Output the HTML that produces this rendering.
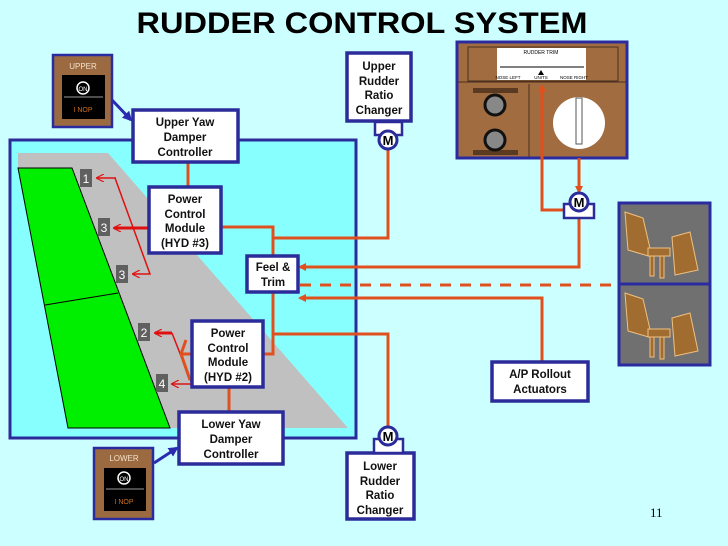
<!DOCTYPE html>
<html><head><meta charset="utf-8"><style>
html,body{margin:0;padding:0;background:#ccffff;}
svg{display:block;font-family:"Liberation Sans",Arial,sans-serif;}
.bx{fill:#fff;stroke:#2b2b9a;stroke-width:3.5;}
.t{font-weight:bold;font-size:11.5px;fill:#111;text-anchor:middle;}
.o{stroke:#e0501e;stroke-width:3;fill:none;}
.r{stroke:#e01010;stroke-width:1.5;fill:none;}
.n{fill:#fff;font-size:12px;text-anchor:middle;}
</style></head><body>
<svg width="728" height="546" viewBox="0 0 728 546">
<defs>
<marker id="ah" markerWidth="8" markerHeight="8" refX="6" refY="4" orient="auto" markerUnits="userSpaceOnUse"><path d="M0,0 L8,4 L0,8 z" fill="#e0501e"/></marker>
<marker id="rh" markerWidth="8" markerHeight="8" refX="7" refY="4" orient="auto" markerUnits="userSpaceOnUse"><path d="M0,0 L8,4 L0,8" fill="none" stroke="#e01010" stroke-width="1.2"/></marker>
<marker id="bh" markerWidth="10" markerHeight="10" refX="8" refY="5" orient="auto" markerUnits="userSpaceOnUse"><path d="M0,0 L10,5 L0,10 z" fill="#2b2bb0"/></marker>
</defs>
<rect width="728" height="546" fill="#ccffff"/>
<text x="362" y="33" font-size="30" font-weight="bold" text-anchor="middle" textLength="451" lengthAdjust="spacingAndGlyphs" fill="#000">RUDDER CONTROL SYSTEM</text>

<rect x="10" y="140" width="346" height="298" fill="#88ffff" stroke="#2b2b9a" stroke-width="3"/>
<polygon points="18,153 108,153 348,428 68,428 18,168" fill="#c0c0c0"/>
<polygon points="18,168 72,168 170,428 68,428" fill="#00ee00" stroke="#000" stroke-width="1"/>
<line x1="45" y1="305" x2="118" y2="293" stroke="#000" stroke-width="1"/>

<rect x="80" y="169" width="12" height="18" fill="#606060"/><text x="86" y="183" class="n">1</text>
<rect x="98" y="218" width="12" height="18" fill="#606060"/><text x="104" y="232" class="n">3</text>
<rect x="116" y="265" width="12" height="18" fill="#606060"/><text x="122" y="279" class="n">3</text>
<rect x="138" y="323" width="12" height="18" fill="#606060"/><text x="144" y="337" class="n">2</text>
<rect x="156" y="374" width="12" height="18" fill="#606060"/><text x="162" y="388" class="n">4</text>

<polyline class="r" points="116,178 97,178" marker-end="url(#rh)"/>
<polyline class="r" points="115,178 150,274 133,274" marker-end="url(#rh)"/>
<line x1="149" y1="228" x2="114" y2="228" stroke="#e01010" stroke-width="3" marker-end="url(#rh)"/>
<polyline class="r" points="172,333 192,384 172,384" marker-end="url(#rh)"/>
<line x1="172" y1="333" x2="155" y2="333" stroke="#e01010" stroke-width="3" marker-end="url(#rh)"/>
<line x1="192" y1="354" x2="180" y2="354" class="o"/>
<line x1="181" y1="354" x2="190" y2="380" class="o"/>
<line x1="181" y1="354" x2="186" y2="340" class="o"/>

<line class="o" x1="188" y1="162" x2="188" y2="187"/>
<polyline class="o" points="221,227 273,227 273,256"/>
<polyline class="o" points="273,238 388,238 388,148"/>
<polyline class="o" points="263,354 273,354 273,292"/>
<polyline class="o" points="273,334 388,334 388,428"/>
<line class="o" x1="229" y1="387" x2="229" y2="412"/>
<polyline class="o" points="579,218 579,267 300,267" marker-end="url(#ah)"/>
<line x1="300" y1="285" x2="619" y2="285" stroke="#e0501e" stroke-width="3" stroke-dasharray="11,9"/>
<polyline class="o" points="542,362 542,298 300,298" marker-end="url(#ah)"/>

<rect class="bx" x="133" y="110" width="105" height="52"/>
<text class="t" x="185" y="126">Upper Yaw</text><text class="t" x="185" y="141">Damper</text><text class="t" x="185" y="156">Controller</text>
<rect class="bx" x="149" y="187" width="72" height="66"/>
<text class="t" x="185" y="203">Power</text><text class="t" x="185" y="218">Control</text><text class="t" x="185" y="232">Module</text><text class="t" x="185" y="247">(HYD #3)</text>
<rect class="bx" x="247" y="256" width="51" height="36"/>
<text class="t" x="273" y="271">Feel &amp;</text><text class="t" x="273" y="286">Trim</text>
<rect class="bx" x="192" y="321" width="71" height="66"/>
<text class="t" x="228" y="337">Power</text><text class="t" x="228" y="352">Control</text><text class="t" x="228" y="366">Module</text><text class="t" x="228" y="381">(HYD #2)</text>
<rect class="bx" x="179" y="412" width="104" height="52"/>
<text class="t" x="231" y="428">Lower Yaw</text><text class="t" x="231" y="443">Damper</text><text class="t" x="231" y="458">Controller</text>
<rect class="bx" x="347" y="53" width="64" height="68"/>
<text class="t" x="379" y="70">Upper</text><text class="t" x="379" y="85">Rudder</text><text class="t" x="379" y="99">Ratio</text><text class="t" x="379" y="114">Changer</text>
<rect class="bx" x="347" y="453" width="67" height="66"/>
<text class="t" x="380" y="470">Lower</text><text class="t" x="380" y="485">Rudder</text><text class="t" x="380" y="499">Ratio</text><text class="t" x="380" y="514">Changer</text>
<rect class="bx" x="492" y="362" width="96" height="39"/>
<text class="t" x="540" y="378">A/P Rollout</text><text class="t" x="540" y="393">Actuators</text>

<rect x="457" y="42" width="170" height="116" fill="#a06c40" stroke="#2b2ba0" stroke-width="3"/>
<rect x="468" y="47" width="150" height="34" fill="none" stroke="#4a3020" stroke-width="1"/>
<rect x="497" y="48" width="89" height="32" fill="#fff"/>
<text x="541" y="54" font-size="5" text-anchor="middle">RUDDER TRIM</text>
<line x1="500" y1="67" x2="584" y2="67" stroke="#000" stroke-width="1"/>
<text x="541" y="79" font-size="4.5" text-anchor="middle">UNITS</text>
<text x="508" y="79" font-size="4.5" text-anchor="middle">NOSE LEFT</text>
<text x="574" y="79" font-size="4.5" text-anchor="middle">NOSE RIGHT</text>
<polygon points="541,70 538,75 544,75" fill="#000"/>
<line x1="458" y1="82" x2="626" y2="82" stroke="#4a3020"/>
<line x1="529" y1="84" x2="529" y2="157" stroke="#4a3020"/>
<rect x="473" y="88" width="45" height="5" fill="#5a3a20"/>
<rect x="473" y="150" width="45" height="5" fill="#5a3a20"/>
<circle cx="495" cy="105" r="10" fill="#888" stroke="#111" stroke-width="3"/>
<circle cx="495" cy="140" r="10" fill="#888" stroke="#111" stroke-width="3"/>
<circle cx="579" cy="123" r="26" fill="#fff"/>
<rect x="576" y="98" width="6" height="46" fill="#fff" stroke="#555" stroke-width="1"/>

<polyline class="o" points="570,210 542,210 542,86" marker-end="url(#ah)"/>
<line class="o" x1="579" y1="158" x2="579" y2="192" marker-end="url(#ah)"/>

<rect x="375" y="122" width="27" height="13" fill="#fff" stroke="#2b2b9a" stroke-width="2.5"/>
<circle cx="388" cy="140" r="9" fill="#fff" stroke="#2b2b9a" stroke-width="3"/>
<text x="388" y="145" font-size="13" font-weight="bold" text-anchor="middle">M</text>
<rect x="374" y="439" width="29" height="14" fill="#fff" stroke="#2b2b9a" stroke-width="2.5"/>
<circle cx="388" cy="436" r="9" fill="#fff" stroke="#2b2b9a" stroke-width="3"/>
<text x="388" y="441" font-size="13" font-weight="bold" text-anchor="middle">M</text>
<rect x="564" y="204" width="30" height="14" fill="#fff" stroke="#2b2b9a" stroke-width="2.5"/>
<circle cx="579" cy="202" r="9" fill="#fff" stroke="#2b2b9a" stroke-width="3"/>
<text x="579" y="207" font-size="13" font-weight="bold" text-anchor="middle">M</text>

<g stroke="#2b2ba0" stroke-width="3" fill="#707070">
<rect x="619" y="203" width="91" height="81"/><rect x="619" y="284" width="91" height="81"/>
</g>
<g fill="#a06c30" stroke="#f0c080" stroke-width="1">
<polygon points="625,212 643,218 652,257 628,250"/><polygon points="672,237 690,232 698,270 675,275"/>
<rect x="648" y="248" width="22" height="8"/><rect x="650" y="256" width="4" height="20"/><rect x="660" y="256" width="4" height="22"/>
<polygon points="625,293 643,299 652,338 628,331"/><polygon points="672,318 690,313 698,351 675,356"/>
<rect x="648" y="329" width="22" height="8"/><rect x="650" y="337" width="4" height="20"/><rect x="660" y="337" width="4" height="22"/>
</g>

<rect x="53" y="55" width="59" height="72" fill="#9c6a40" stroke="#2b2ba0" stroke-width="2.5"/>
<text x="83" y="69" font-size="8" fill="#f4e0c8" text-anchor="middle">UPPER</text>
<rect x="62" y="75" width="43" height="44" fill="#000"/>
<circle cx="83" cy="88" r="6" fill="none" stroke="#fff" stroke-width="1.5"/><text x="83" y="91" font-size="6" fill="#fff" text-anchor="middle">ON</text>
<line x1="64" y1="97" x2="103" y2="97" stroke="#999"/>
<text x="83" y="112" font-size="7" fill="#d07020" text-anchor="middle">I NOP</text>
<line x1="112" y1="100" x2="131" y2="120" stroke="#2b2bb0" stroke-width="3" marker-end="url(#bh)"/>
<rect x="94" y="448" width="59" height="71" fill="#9c6a40" stroke="#2b2ba0" stroke-width="2.5"/>
<text x="124" y="461" font-size="8" fill="#f4e0c8" text-anchor="middle">LOWER</text>
<rect x="104" y="468" width="42" height="43" fill="#000"/>
<circle cx="124" cy="478" r="6" fill="none" stroke="#fff" stroke-width="1.5"/><text x="124" y="481" font-size="6" fill="#fff" text-anchor="middle">ON</text>
<line x1="106" y1="489" x2="144" y2="489" stroke="#999"/>
<text x="124" y="504" font-size="7" fill="#d07020" text-anchor="middle">I NOP</text>
<line x1="154" y1="463" x2="177" y2="448" stroke="#2b2bb0" stroke-width="3" marker-end="url(#bh)"/>

<text x="650" y="517" font-size="13" font-family="Liberation Serif,serif" fill="#000">11</text>
</svg>
</body></html>
